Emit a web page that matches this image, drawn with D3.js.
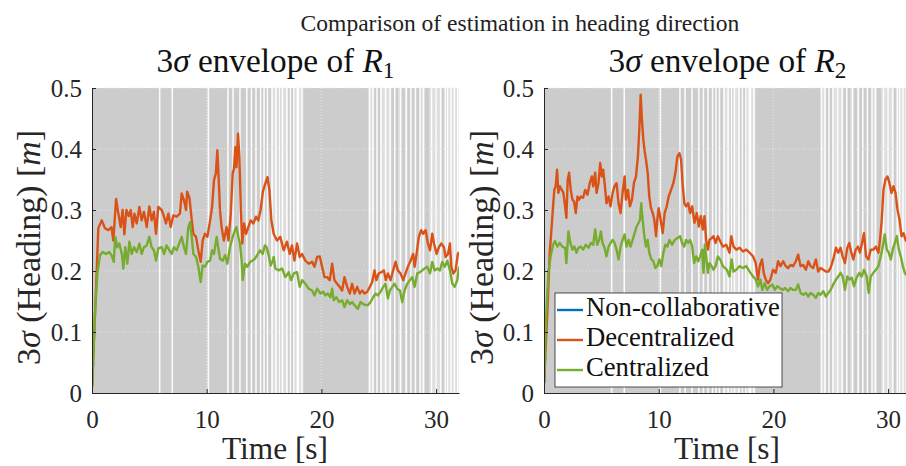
<!DOCTYPE html>
<html><head><meta charset="utf-8">
<script src="https://cdn.jsdelivr.net/npm/d3@7"></script>
<style>
body{margin:0;background:#fff;overflow:hidden}
text{font-family:"Liberation Serif","Times New Roman",serif;fill:#262626}
</style></head>
<body><svg id="chart" width="906" height="466"></svg>
<script>
// ---------- data ----------
const xTicks = [0, 10, 20, 30];
const yTicks = [0, 0.1, 0.2, 0.3, 0.4, 0.5];
const yTickLabels = ["0", "0.1", "0.2", "0.3", "0.4", "0.5"];
const seriesNames = ["Non-collaborative", "Decentralized", "Centralized"];
const seriesColors = ["#0072BD", "#D95319", "#77AC30"];
const panelRobots = ["1", "2"];

// times (s) of communication events (white stripes on the grey background)
const stripeTimes = [5.9, 7.0, 10.15, 11.85, 12.3, 12.9, 13.5, 13.9, 14.3, 14.7, 15.0, 15.3, 15.7, 16.05, 16.35, 16.6, 17.0, 17.3, 17.6, 17.9, 18.0, 18.3,
  24.2, 24.5, 24.85, 25.2, 25.6, 26.0, 26.4, 26.9, 27.4, 27.8, 28.2, 28.6, 28.9, 29.6, 30.0, 30.4, 30.8, 31.0, 31.3, 31.6, 31.9];
const lightBands = [[15.6,16.2],[16.5,17.1],[17.7,18.45],[24.1,24.6],[25.1,26.1],[26.7,27.0],[27.3,27.5],[28.7,29.0],[29.4,30.5],[30.9,32]];

const r1NonCollab = [[0,0.012],[0.1,0.05]];
const r1Dec = [[0,0.01],[0.35,0.17],[0.55,0.27],[0.85,0.283],[1.13,0.27],[1.42,0.267],[1.7,0.272],[1.86,0.25],[2.1,0.318],[2.3,0.294],[2.5,0.272],[2.67,0.30],[2.82,0.26],[3.0,0.30],[3.2,0.29],[3.37,0.30],[3.55,0.272],[3.7,0.294],[3.9,0.278],[4.13,0.305],[4.33,0.283],[4.53,0.297],[4.77,0.272],[5.0,0.306],[5.2,0.283],[5.4,0.297],[5.58,0.261],[5.78,0.305],[6.08,0.30],[6.28,0.289],[6.45,0.278],[6.66,0.294],[6.86,0.272],[7.09,0.291],[7.38,0.289],[7.67,0.294],[7.82,0.327],[8.02,0.316],[8.2,0.30],[8.3,0.33],[8.5,0.32],[8.7,0.283],[8.84,0.261],[9.07,0.256],[9.27,0.234],[9.48,0.215],[9.65,0.25],[9.85,0.261],[10.06,0.256],[10.3,0.283],[10.47,0.305],[10.64,0.349],[10.8,0.36],[10.93,0.398],[11.05,0.349],[11.16,0.30],[11.3,0.272],[11.5,0.25],[11.74,0.272],[11.9,0.25],[12.1,0.294],[12.27,0.36],[12.38,0.368],[12.5,0.403],[12.6,0.37],[12.73,0.425],[12.85,0.387],[12.97,0.305],[13.1,0.245],[13.26,0.278],[13.43,0.261],[13.63,0.272],[13.84,0.283],[14.07,0.278],[14.3,0.289],[14.5,0.283],[14.7,0.30],[14.9,0.33],[15.1,0.343],[15.3,0.354],[15.47,0.332],[15.64,0.283],[15.84,0.261],[16.13,0.25],[16.42,0.256],[16.71,0.234],[17.0,0.248],[17.24,0.228],[17.44,0.242],[17.65,0.217],[17.88,0.245],[18.11,0.223],[18.32,0.228],[18.6,0.217],[18.9,0.212],[19.19,0.215],[19.4,0.207],[19.63,0.223],[19.86,0.224],[20.06,0.207],[20.27,0.19],[20.5,0.19],[20.73,0.185],[20.94,0.212],[21.14,0.185],[21.37,0.179],[21.6,0.174],[21.81,0.168],[22.01,0.19],[22.25,0.174],[22.48,0.163],[22.68,0.179],[22.89,0.163],[23.12,0.174],[23.35,0.163],[23.56,0.168],[23.76,0.163],[24.0,0.166],[24.23,0.174],[24.43,0.182],[24.63,0.201],[24.8,0.185],[25.0,0.196],[25.22,0.198],[25.45,0.201],[25.62,0.185],[25.8,0.196],[26.03,0.185],[26.26,0.201],[26.47,0.215],[26.67,0.201],[26.9,0.196],[27.14,0.185],[27.34,0.196],[27.54,0.207],[27.78,0.217],[28.0,0.228],[28.13,0.207],[28.3,0.228],[28.5,0.256],[28.7,0.267],[28.88,0.261],[29.09,0.267],[29.29,0.245],[29.47,0.234],[29.67,0.261],[29.82,0.245],[30.05,0.228],[30.25,0.239],[30.45,0.245],[30.69,0.239],[30.83,0.223],[31.04,0.228],[31.21,0.245],[31.33,0.207],[31.5,0.196],[31.7,0.201],[31.9,0.228],[32.0,0.231]];
const r1Cen = [[0,0.01],[0.26,0.13],[0.47,0.196],[0.7,0.226],[0.93,0.231],[1.22,0.228],[1.5,0.231],[1.7,0.226],[1.9,0.215],[2.03,0.256],[2.2,0.239],[2.38,0.245],[2.6,0.228],[2.73,0.204],[2.9,0.239],[3.08,0.212],[3.26,0.248],[3.46,0.228],[3.66,0.239],[3.9,0.231],[4.13,0.245],[4.33,0.228],[4.53,0.239],[4.77,0.242],[5.0,0.256],[5.2,0.239],[5.4,0.234],[5.58,0.217],[5.78,0.237],[6.08,0.239],[6.28,0.228],[6.5,0.242],[6.74,0.234],[6.95,0.228],[7.15,0.239],[7.38,0.234],[7.6,0.245],[7.82,0.256],[8.02,0.239],[8.2,0.228],[8.4,0.272],[8.55,0.28],[8.7,0.256],[8.84,0.228],[9.07,0.223],[9.27,0.207],[9.48,0.182],[9.65,0.209],[9.85,0.207],[10.06,0.215],[10.3,0.217],[10.47,0.234],[10.64,0.228],[10.87,0.256],[11.0,0.239],[11.16,0.22],[11.4,0.217],[11.6,0.226],[11.8,0.212],[12.03,0.239],[12.27,0.256],[12.47,0.267],[12.6,0.272],[12.76,0.256],[12.9,0.245],[13.05,0.217],[13.14,0.185],[13.34,0.212],[13.55,0.207],[13.78,0.215],[14.0,0.217],[14.2,0.22],[14.4,0.226],[14.65,0.234],[14.88,0.228],[15.08,0.242],[15.23,0.239],[15.4,0.226],[15.58,0.209],[15.76,0.217],[15.84,0.223],[15.99,0.204],[16.28,0.201],[16.57,0.204],[16.86,0.19],[17.15,0.198],[17.36,0.185],[17.59,0.196],[17.88,0.198],[18.11,0.174],[18.32,0.185],[18.6,0.179],[18.9,0.171],[19.19,0.168],[19.4,0.16],[19.63,0.171],[19.92,0.163],[20.15,0.166],[20.35,0.16],[20.56,0.163],[20.79,0.157],[20.94,0.171],[21.08,0.152],[21.31,0.157],[21.55,0.149],[21.81,0.152],[22.01,0.141],[22.25,0.152],[22.48,0.146],[22.68,0.149],[22.89,0.144],[23.18,0.138],[23.41,0.149],[23.64,0.146],[23.85,0.144],[24.05,0.144],[24.28,0.149],[24.52,0.157],[24.72,0.163],[24.92,0.16],[25.16,0.166],[25.39,0.174],[25.59,0.179],[25.8,0.155],[25.97,0.168],[26.18,0.174],[26.38,0.179],[26.61,0.171],[26.85,0.168],[27.05,0.149],[27.25,0.168],[27.49,0.179],[27.72,0.185],[27.92,0.19],[28.13,0.174],[28.36,0.196],[28.59,0.198],[28.8,0.201],[29.0,0.204],[29.23,0.207],[29.47,0.196],[29.67,0.215],[29.87,0.201],[30.11,0.204],[30.34,0.201],[30.54,0.215],[30.75,0.207],[30.98,0.217],[31.21,0.201],[31.42,0.179],[31.62,0.174],[31.85,0.185],[32.0,0.207]];

const r2NonCollab = [[0,0.016],[0.1,0.06]];
const r2Dec = [[0,0.016],[0.29,0.131],[0.5,0.23],[0.67,0.273],[0.79,0.306],[0.9,0.333],[1.02,0.339],[1.14,0.366],[1.25,0.328],[1.37,0.339],[1.55,0.333],[1.69,0.328],[1.84,0.306],[1.95,0.287],[2.07,0.35],[2.19,0.361],[2.33,0.333],[2.48,0.317],[2.62,0.314],[2.77,0.295],[2.92,0.322],[3.06,0.317],[3.21,0.322],[3.41,0.32],[3.59,0.333],[3.79,0.325],[3.99,0.344],[4.17,0.355],[4.29,0.339],[4.46,0.361],[4.58,0.328],[4.75,0.344],[4.9,0.377],[5.04,0.355],[5.16,0.366],[5.31,0.339],[5.45,0.311],[5.63,0.322],[5.8,0.306],[5.98,0.328],[6.15,0.339],[6.33,0.344],[6.5,0.311],[6.68,0.295],[6.85,0.328],[7.03,0.355],[7.14,0.317],[7.32,0.333],[7.49,0.306],[7.67,0.317],[7.84,0.344],[8.02,0.355],[8.19,0.388],[8.31,0.432],[8.43,0.489],[8.54,0.448],[8.66,0.415],[8.78,0.396],[8.89,0.383],[9.04,0.361],[9.18,0.322],[9.33,0.303],[9.48,0.295],[9.62,0.284],[9.77,0.257],[9.88,0.284],[10.0,0.303],[10.17,0.284],[10.35,0.262],[10.52,0.295],[10.7,0.306],[10.87,0.322],[11.08,0.333],[11.28,0.344],[11.46,0.361],[11.63,0.388],[11.81,0.393],[11.95,0.383],[12.1,0.339],[12.24,0.311],[12.39,0.306],[12.57,0.311],[12.74,0.295],[12.92,0.306],[13.12,0.279],[13.32,0.295],[13.5,0.273],[13.67,0.29],[13.85,0.268],[13.99,0.29],[14.14,0.251],[14.29,0.235],[14.43,0.251],[14.61,0.254],[14.78,0.257],[14.96,0.246],[15.16,0.257],[15.31,0.251],[15.6,0.24],[15.89,0.243],[16.18,0.23],[16.33,0.257],[16.53,0.24],[16.77,0.235],[17.06,0.238],[17.35,0.232],[17.64,0.235],[17.93,0.23],[18.23,0.224],[18.46,0.213],[18.66,0.186],[18.81,0.208],[19.01,0.219],[19.16,0.197],[19.33,0.186],[19.54,0.18],[19.74,0.186],[19.97,0.202],[20.21,0.197],[20.41,0.216],[20.62,0.208],[20.85,0.216],[21.08,0.208],[21.29,0.205],[21.49,0.21],[21.72,0.208],[21.96,0.216],[22.16,0.227],[22.37,0.208],[22.6,0.21],[22.83,0.202],[23.04,0.216],[23.24,0.208],[23.47,0.205],[23.71,0.219],[23.91,0.199],[24.11,0.205],[24.35,0.202],[24.58,0.199],[24.79,0.199],[24.99,0.205],[25.22,0.219],[25.46,0.238],[25.66,0.23],[25.86,0.238],[26.04,0.224],[26.24,0.213],[26.45,0.238],[26.62,0.246],[26.8,0.23],[26.97,0.219],[27.18,0.235],[27.38,0.24],[27.55,0.23],[27.73,0.246],[27.9,0.262],[28.08,0.224],[28.28,0.219],[28.49,0.235],[28.72,0.235],[28.95,0.24],[29.16,0.23],[29.3,0.251],[29.45,0.284],[29.6,0.333],[29.77,0.35],[29.95,0.355],[30.12,0.344],[30.3,0.328],[30.47,0.339],[30.65,0.328],[30.82,0.301],[31.0,0.284],[31.17,0.257],[31.35,0.262],[31.52,0.251],[32.0,0.24]];
const r2Cen = [[0,0.016],[0.2,0.131],[0.38,0.197],[0.58,0.224],[0.79,0.243],[0.96,0.249],[1.17,0.24],[1.37,0.246],[1.6,0.24],[1.84,0.238],[1.95,0.213],[2.13,0.265],[2.3,0.246],[2.48,0.235],[2.65,0.24],[2.83,0.23],[3.0,0.238],[3.21,0.24],[3.41,0.235],[3.64,0.243],[3.88,0.238],[4.08,0.246],[4.29,0.243],[4.46,0.268],[4.64,0.243],[4.81,0.251],[4.96,0.265],[5.1,0.246],[5.28,0.238],[5.45,0.224],[5.63,0.24],[5.8,0.246],[5.98,0.251],[6.15,0.246],[6.33,0.235],[6.5,0.219],[6.68,0.24],[6.85,0.251],[7.03,0.26],[7.2,0.24],[7.38,0.251],[7.55,0.24],[7.73,0.251],[7.9,0.262],[8.08,0.273],[8.25,0.279],[8.37,0.284],[8.48,0.311],[8.6,0.284],[8.75,0.257],[8.89,0.24],[9.04,0.251],[9.18,0.23],[9.36,0.219],[9.53,0.216],[9.71,0.205],[9.88,0.208],[10.06,0.219],[10.23,0.208],[10.41,0.23],[10.58,0.243],[10.76,0.24],[10.93,0.251],[11.17,0.243],[11.4,0.251],[11.63,0.254],[11.87,0.257],[12.04,0.246],[12.22,0.24],[12.39,0.251],[12.57,0.246],[12.74,0.251],[12.92,0.24],[13.09,0.213],[13.27,0.224],[13.44,0.216],[13.62,0.224],[13.79,0.235],[13.91,0.197],[14.02,0.243],[14.14,0.224],[14.29,0.197],[14.43,0.213],[14.61,0.208],[14.78,0.202],[14.96,0.208],[15.16,0.224],[15.36,0.219],[15.6,0.208],[15.95,0.202],[16.18,0.191],[16.36,0.219],[16.53,0.199],[16.77,0.202],[17.06,0.208],[17.35,0.205],[17.64,0.208],[17.93,0.199],[18.23,0.191],[18.46,0.186],[18.66,0.175],[18.87,0.186],[19.04,0.169],[19.25,0.18],[19.45,0.169],[19.68,0.175],[19.92,0.178],[20.12,0.169],[20.33,0.175],[20.56,0.172],[20.79,0.169],[21.02,0.172],[21.29,0.167],[21.49,0.172],[21.72,0.169],[21.96,0.169],[22.16,0.178],[22.37,0.164],[22.6,0.161],[22.83,0.164],[23.04,0.158],[23.24,0.164],[23.47,0.161],[23.71,0.156],[23.91,0.164],[24.11,0.161],[24.35,0.167],[24.58,0.158],[24.79,0.164],[24.99,0.169],[25.22,0.178],[25.46,0.186],[25.66,0.191],[25.86,0.197],[26.04,0.191],[26.24,0.169],[26.45,0.191],[26.62,0.186],[26.83,0.189],[27.03,0.175],[27.26,0.189],[27.5,0.197],[27.7,0.191],[27.9,0.202],[28.14,0.191],[28.31,0.164],[28.49,0.191],[28.72,0.197],[28.95,0.202],[29.16,0.208],[29.36,0.224],[29.54,0.24],[29.71,0.26],[29.89,0.235],[30.06,0.23],[30.24,0.219],[30.41,0.235],[30.59,0.246],[30.76,0.257],[30.94,0.235],[31.11,0.224],[31.29,0.208],[31.46,0.197],[31.58,0.194],[32.0,0.19]];

const panelsData = [[r1NonCollab, r1Dec, r1Cen], [r2NonCollab, r2Dec, r2Cen]];

// ---------- drawing ----------
const svg = d3.select("#chart");
const panelLeft = [92, 544];
const plotW = 367, plotTop = 88, plotBottom = 393;

function fit(sel, target) {
  const w = sel.node().getComputedTextLength();
  const fs = parseFloat(sel.attr("font-size"));
  sel.attr("font-size", (fs * target / w).toFixed(2));
}

const title = svg.append("text").attr("x", 520).attr("y", 31)
  .attr("text-anchor", "middle").attr("font-size", 22).style("fill", "#222")
  .text("Comparison of estimation in heading direction");
fit(title, 439);

panelsData.forEach((series, pi) => {
  const x0 = panelLeft[pi];
  const x = d3.scaleLinear().domain([0, 32]).range([x0, x0 + plotW]);
  const y = d3.scaleLinear().domain([0, 0.5]).range([plotBottom, plotTop]);
  const g = svg.append("g");
  const clipId = "clip" + pi;
  svg.append("clipPath").attr("id", clipId).append("rect")
    .attr("x", x0).attr("y", plotTop - 2).attr("width", plotW).attr("height", plotBottom - plotTop + 2);

  const bg = g.append("g").attr("clip-path", `url(#${clipId})`);
  bg.append("rect").attr("x", x0).attr("y", plotTop).attr("width", plotW)
    .attr("height", plotBottom - plotTop).attr("fill", "#cccccc");
  bg.selectAll("rect.band").data(lightBands).enter().append("rect").attr("class", "band")
    .attr("x", d => x(d[0])).attr("width", d => x(d[1]) - x(d[0]))
    .attr("y", plotTop).attr("height", plotBottom - plotTop)
    .attr("fill", "#fff").attr("opacity", 0.35);
  bg.selectAll("rect.stripe").data(stripeTimes).enter().append("rect").attr("class", "stripe")
    .attr("x", d => x(d) - 0.8).attr("width", 1.6)
    .attr("y", plotTop).attr("height", plotBottom - plotTop)
    .attr("fill", "#fff").attr("opacity", 0.9);

  // grid
  bg.selectAll("line.gy").data(yTicks.filter(v => v > 0)).enter().append("line")
    .attr("x1", x0).attr("x2", x0 + plotW).attr("y1", d => y(d)).attr("y2", d => y(d))
    .attr("stroke", "#e8e8e8").attr("stroke-width", 1).attr("stroke-dasharray", "1,2");
  bg.selectAll("line.gx").data(xTicks.filter(v => v > 0)).enter().append("line")
    .attr("y1", plotTop).attr("y2", plotBottom).attr("x1", d => x(d)).attr("x2", d => x(d))
    .attr("stroke", "#e8e8e8").attr("stroke-width", 1).attr("stroke-dasharray", "1,2");

  // lines
  const line = d3.line().x(d => x(d[0])).y(d => y(d[1]));
  series.forEach((s, si) => {
    bg.append("path").datum(s).attr("d", line).attr("fill", "none")
      .attr("stroke", seriesColors[si]).attr("stroke-width", 2.4).attr("stroke-linejoin", "round");
  });

  // axes
  const ax = d3.axisLeft(y).tickValues(yTicks).tickFormat((d, i) => yTickLabels[i])
    .tickSizeInner(-4).tickSizeOuter(0).tickPadding(10);
  const axg = g.append("g").attr("transform", `translate(${x0},0)`).call(ax);
  const bx = d3.axisBottom(x).tickValues(xTicks).tickFormat(d3.format("d"))
    .tickSizeInner(-4).tickSizeOuter(0).tickPadding(17);
  const bxg = g.append("g").attr("transform", `translate(0,${plotBottom})`).call(bx);
  [axg, bxg].forEach(a => {
    a.select(".domain").attr("stroke", "#262626").attr("stroke-width", 1);
    a.selectAll(".tick line").attr("stroke", "#262626");
    a.selectAll(".tick text").attr("font-size", 25).attr("font-family", '"Liberation Serif",serif').style("fill", "#262626");
  });

  // subplot title
  const st = g.append("text").attr("x", x0 + plotW / 2).attr("y", 72)
    .attr("text-anchor", "middle").attr("font-size", 28).style("fill", "#111");
  st.append("tspan").text("3");
  st.append("tspan").attr("font-style", "italic").text("σ");
  st.append("tspan").text(" envelope of ");
  st.append("tspan").attr("font-style", "italic").text("R");
  st.append("tspan").attr("font-size", "0.7em").attr("dy", "0.25em").text(panelRobots[pi]);
  fit(st, 238);

  // x label
  const xl = g.append("text").attr("x", x0 + 183).attr("y", 459)
    .attr("text-anchor", "middle").attr("font-size", 28).text("Time [s]");
  fit(xl, 106);

  // y label
  const ylx = pi === 0 ? 40 : 493;
  const yl = g.append("text").attr("transform", `translate(${ylx},${(plotTop + plotBottom) / 2 + 7}) rotate(-90)`)
    .attr("text-anchor", "middle").attr("font-size", 26);
  yl.append("tspan").text("3");
  yl.append("tspan").attr("font-style", "italic").text("σ");
  yl.append("tspan").text(" (Heading) [");
  yl.append("tspan").attr("font-style", "italic").text("m");
  yl.append("tspan").text("]");
  fit(yl, 235);

  if (pi === 1) {
    const lg = g.append("g");
    lg.append("rect").attr("x", 555).attr("y", 293).attr("width", 227).attr("height", 94)
      .attr("fill", "#fff").attr("stroke", "#262626").attr("stroke-width", 0.8);
    const rowY = [310, 340, 370];
    let fs = null;
    seriesNames.forEach((n, i) => {
      lg.append("line").attr("x1", 557).attr("x2", 583).attr("y1", rowY[i]).attr("y2", rowY[i])
        .attr("stroke", seriesColors[i]).attr("stroke-width", 2.4);
      const t = lg.append("text").attr("x", 586).attr("y", rowY[i] + 6).attr("font-size", 24).style("fill", "#111").text(n);
      if (i === 0) { fit(t, 194); fs = t.attr("font-size"); } else t.attr("font-size", fs);
    });
  }
});
</script>
</body></html>
